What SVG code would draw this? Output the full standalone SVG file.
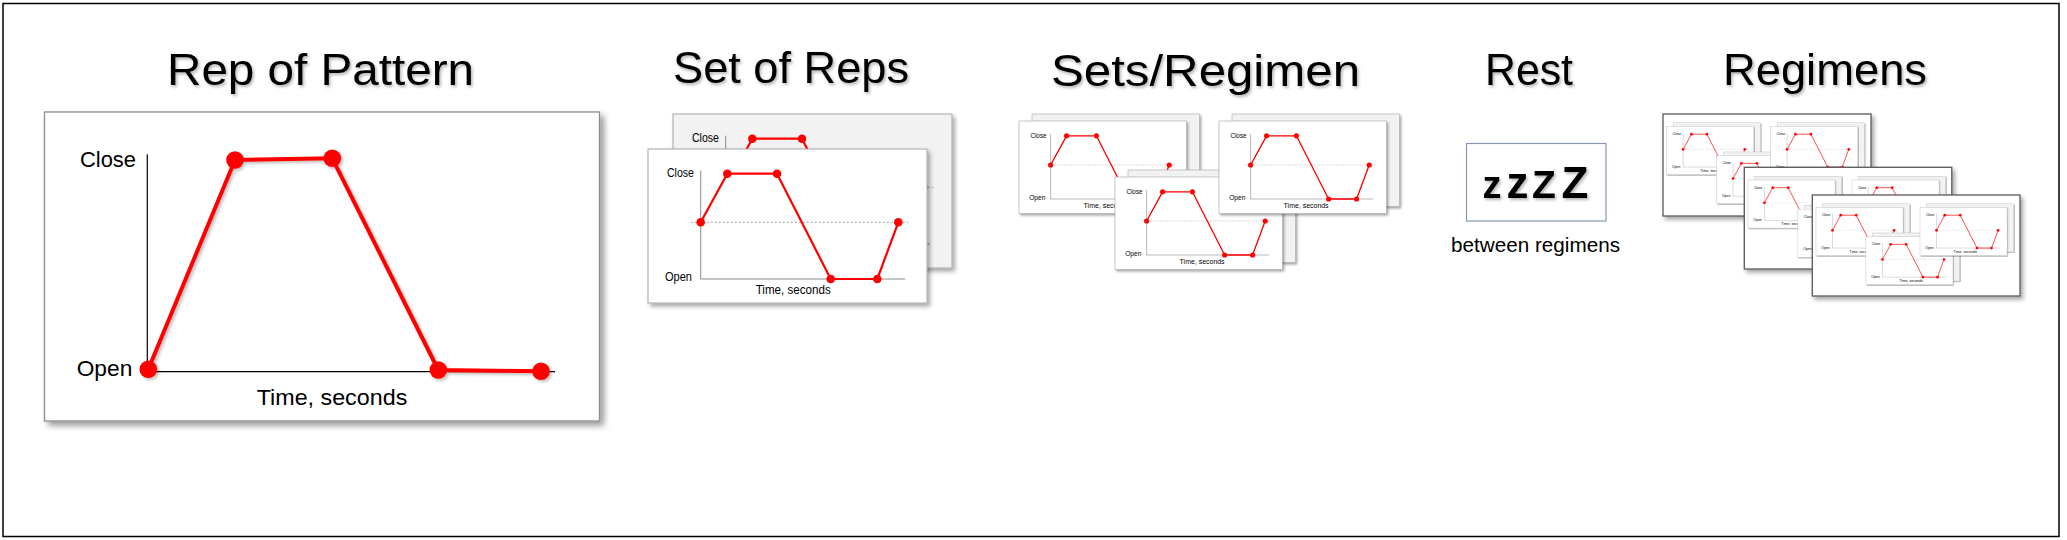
<svg xmlns="http://www.w3.org/2000/svg" xmlns:xlink="http://www.w3.org/1999/xlink" width="2067" height="540" viewBox="0 0 2067 540">
<style>
  text { font-family: "Liberation Sans", Arial, sans-serif; fill: #000; }
  .title { font-size: 44px; filter: url(#tsh); }
  .lbl { font-size: 21.5px; }
  .clbl { font-size: 12px; }
  .zz { font-weight: bold; filter: url(#tsh); }
  .ax { stroke: #000; stroke-width: 1.2; fill: none; }
  .cax { stroke: #8c8c8c; stroke-width: 1; fill: none; }
  .mid { stroke: #8c8c8c; stroke-width: 0.8; stroke-dasharray: 2 2; fill: none; }
  .red { stroke: #ff0000; fill: none; stroke-linejoin: round; }
  .dot { fill: #ff0000; }
  .cardF { fill: #ffffff; stroke: #a6a6a6; stroke-width: 1; filter: url(#sh); }
  .cardB { fill: #f2f2f2; stroke: #a6a6a6; stroke-width: 1; filter: url(#sh); }
  .panel { fill: #ffffff; stroke: #8c8c8c; stroke-width: 1.3; filter: url(#sh2); }
  .reg { fill: #ffffff; stroke: #595959; stroke-width: 1.3; filter: url(#sh); }
</style>
<defs>
  <filter id="sh" x="-10%" y="-10%" width="125%" height="135%">
    <feDropShadow dx="2.5" dy="3" stdDeviation="2" flood-color="#000" flood-opacity="0.35"/>
  </filter>
  <filter id="sh2" x="-10%" y="-10%" width="125%" height="130%">
    <feDropShadow dx="4" dy="4" stdDeviation="3" flood-color="#000" flood-opacity="0.4"/>
  </filter>
  <filter id="tsh" x="-10%" y="-20%" width="125%" height="150%">
    <feDropShadow dx="1.5" dy="2" stdDeviation="1.5" flood-color="#000" flood-opacity="0.3"/>
  </filter>
  <filter id="lsh" x="-10%" y="-10%" width="125%" height="125%">
    <feDropShadow dx="2" dy="2" stdDeviation="1.5" flood-color="#000" flood-opacity="0.25"/>
  </filter>

  <g id="chart">
    <line class="cax" x1="52.7" y1="21.7" x2="52.7" y2="130"/>
    <line class="cax" x1="52.7" y1="130" x2="257" y2="130"/>
    <line class="mid" x1="42.7" y1="73.3" x2="260.3" y2="73.3"/>
    <polyline class="red" stroke-width="2.2" points="52.7,73.3 79.3,24.7 129,24.7 182.7,130 229.3,130 250.3,73.3"/>
    <circle class="dot" cx="52.7" cy="73.3" r="4.3"/>
    <circle class="dot" cx="79.3" cy="24.7" r="4.3"/>
    <circle class="dot" cx="129" cy="24.7" r="4.3"/>
    <circle class="dot" cx="182.7" cy="130" r="4.3"/>
    <circle class="dot" cx="229.3" cy="130" r="4.3"/>
    <circle class="dot" cx="250.3" cy="73.3" r="4.3"/>
    <text class="clbl" x="46" y="27.7" text-anchor="end" textLength="27" lengthAdjust="spacingAndGlyphs">Close</text>
    <text class="clbl" x="44" y="132" text-anchor="end" textLength="27" lengthAdjust="spacingAndGlyphs">Open</text>
    <text class="clbl" x="107.7" y="145" textLength="75" lengthAdjust="spacingAndGlyphs">Time, seconds</text>
  </g>
  <g id="cardF"><rect class="cardF" x="0" y="0" width="279" height="154"/><use href="#chart"/></g>
  <g id="cardB"><rect class="cardB" x="0" y="0" width="279" height="154"/><use href="#chart"/></g>
  <g id="setS"><use href="#cardB" x="21.7" y="-11.7"/><use href="#cardF"/></g>
  <g id="regimenComposite">
    <use href="#setS" transform="translate(1019,121) scale(0.6)"/>
    <use href="#setS" transform="translate(1115,177) scale(0.6)"/>
    <use href="#setS" transform="translate(1219,121) scale(0.6)"/>
  </g>
</defs>

<rect id="frame" x="3" y="3.5" width="2056" height="533" fill="#ffffff" stroke="#000" stroke-width="1.5"/>

<g id="rep-of-pattern">
  <text class="title" x="167" y="85" font-size="46" textLength="307" lengthAdjust="spacingAndGlyphs">Rep of Pattern</text>
  <rect class="panel" x="44.5" y="112" width="555" height="309"/>
  <line class="ax" x1="147.3" y1="154.3" x2="147.3" y2="371.7"/>
  <line class="ax" x1="147.3" y1="371.7" x2="555" y2="371.7"/>
  <g filter="url(#lsh)">
    <polyline class="red" stroke-width="4" points="148.3,369.3 235,160 332.3,158.3 438.3,370 541,371.3"/>
    <circle class="dot" cx="148.3" cy="369.3" r="8.8"/>
    <circle class="dot" cx="235" cy="160" r="8.8"/>
    <circle class="dot" cx="332.3" cy="158.3" r="8.8"/>
    <circle class="dot" cx="438.3" cy="370" r="8.8"/>
    <circle class="dot" cx="541" cy="371.3" r="8.8"/>
  </g>
  <text class="lbl" x="136" y="167.3" text-anchor="end" textLength="56" lengthAdjust="spacingAndGlyphs">Close</text>
  <text class="lbl" x="132.3" y="376" text-anchor="end" textLength="55.6" lengthAdjust="spacingAndGlyphs">Open</text>
  <text class="lbl" x="256.7" y="405" textLength="150.6" lengthAdjust="spacingAndGlyphs">Time, seconds</text>
</g>

<g id="set-of-reps">
  <text class="title" x="673" y="83" textLength="236" lengthAdjust="spacingAndGlyphs">Set of Reps</text>
  <use href="#cardB" x="673" y="114"/>
  <use href="#cardF" x="648" y="149"/>
</g>

<g id="sets-regimen">
  <text class="title" x="1051" y="86" textLength="309" lengthAdjust="spacingAndGlyphs">Sets/Regimen</text>
  <use href="#regimenComposite"/>
</g>

<g id="rest">
  <text class="title" x="1485" y="85" textLength="88" lengthAdjust="spacingAndGlyphs">Rest</text>
  <rect x="1466.5" y="143.5" width="139.5" height="77.5" fill="#ffffff" stroke="#8497b0" stroke-width="1.2"/>
  <text class="zz" x="1492" y="198" font-size="38" text-anchor="middle">z</text>
  <text class="zz" x="1517.5" y="198" font-size="44" text-anchor="middle">z</text>
  <text class="zz" x="1544" y="198" font-size="39" text-anchor="middle">Z</text>
  <text class="zz" x="1575" y="198" font-size="44" text-anchor="middle">Z</text>
  <text x="1451" y="252" font-size="21" textLength="169" lengthAdjust="spacingAndGlyphs">between regimens</text>
</g>

<g id="regimens">
  <text class="title" x="1723" y="85" textLength="204" lengthAdjust="spacingAndGlyphs">Regimens</text>
  <g id="regimen-1">
    <rect class="reg" x="1663" y="114" width="208" height="102"/>
    <use href="#regimenComposite" transform="translate(1666.7,126.5) scale(0.52) translate(-1019,-121)"/>
  </g>
  <g id="regimen-2">
    <rect class="reg" x="1744.3" y="167.3" width="207.5" height="101.7"/>
    <use href="#regimenComposite" transform="translate(1748,180) scale(0.52) translate(-1019,-121)"/>
  </g>
  <g id="regimen-3">
    <rect class="reg" x="1812.3" y="195" width="207.7" height="101"/>
    <use href="#regimenComposite" transform="translate(1816,207.5) scale(0.52) translate(-1019,-121)"/>
  </g>
</g>

<g id="connectors"></g>
</svg>
